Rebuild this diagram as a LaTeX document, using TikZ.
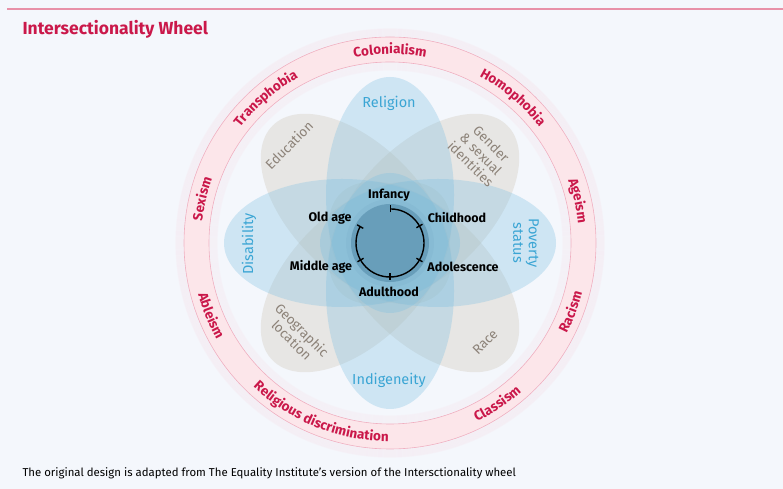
\documentclass[tikz,border=0pt]{standalone}
\usepackage{fontspec}
\setmainfont{Fira Sans}
\usetikzlibrary{decorations.text, arrows.meta, calc}

\definecolor{pagebg}{RGB}{244,247,252}
\definecolor{wheelred}{RGB}{202,24,74}
\definecolor{ringpink}{RGB}{252,230,234}
\definecolor{ringedge}{RGB}{240,175,192}
\definecolor{ringglow}{RGB}{250,200,212}
\definecolor{petalblue}{RGB}{120,190,225}
\definecolor{petalgray}{RGB}{205,195,180}
\definecolor{textblue}{RGB}{58,165,212}
\definecolor{textgray}{RGB}{140,130,120}
\definecolor{hubblue}{RGB}{80,135,165}

\newcommand{\ringfont}{\fontsize{13.5}{13.5}\selectfont\bfseries\color{wheelred}}

\tikzset{
    blue-petal/.style = {fill=petalblue, fill opacity=0.3},
    gray-petal/.style = {fill=petalgray, fill opacity=0.32},
    blue-text/.style = {text=textblue, font=\fontsize{14.5}{15.5}\selectfont, align=center},
    gray-text/.style = {text=textgray, font=\fontsize{13.5}{14.5}\selectfont, align=center},
    age-text/.style = {text=black, font=\fontsize{12.5}{13}\selectfont\bfseries},
    ring-top/.style = {decorate, decoration={text along path, text align=center, text/.expanded={|\noexpand\ringfont|#1}}},
    ring-bottom/.style = {decorate, decoration={text along path, text align=center, text/.expanded={|\noexpand\ringfont|#1}}},
}

\begin{document}
\begin{tikzpicture}[x=1pt, y=1pt]
\fill[pagebg] (0,0) rectangle (783,489);
\useasboundingbox (0,0) rectangle (783,489);
\draw[ringedge!80!wheelred, line width=1.1pt] (7,480) -- (783,480);
\node[anchor=west, text=wheelred, font=\fontsize{17.5}{18}\selectfont\bfseries] (title) at (19,460) {Intersectionality Wheel};

\coordinate (c) at (390,246);

% outer ring
\foreach \dr in {1,...,8} {
    \draw[ringglow, opacity=0.12, line width=1.2pt] (c) circle[radius=206+\dr];
    \draw[ringglow, opacity=0.09, line width=1.2pt] (c) circle[radius=181-\dr];
}
\fill[ringpink, even odd rule] (c) circle[radius=206] (c) circle[radius=181];
\draw[ringedge, line width=0.6pt] (c) circle[radius=206] (c) circle[radius=181];

% ring labels
\foreach \ang/\word in {166.8/Sexism, 130.7/Transphobia, 90/Colonialism, 49.8/Homophobia, 12.7/Ageism}
    \path[ring-top=\word] (c) ++(\ang+40:189) arc[start angle=\ang+40, end angle=\ang-40, radius=189];
\foreach \ang/\word in {-20.8/Racism, -56.3/Classism, -112/Religious discrimination, -158/Ableism}
    \path[ring-bottom=\word] (c) ++(\ang-40:198.5) arc[start angle=\ang-40, end angle=\ang+40, radius=198.5];

% petals
\foreach \ang in {45,135,225,315}
    \fill[gray-petal, rotate around={\ang:(c)}] ($(c)+(48,0)$) ellipse[x radius=118, y radius=65];
\foreach \ang in {0,90,180,270}
    \fill[blue-petal, rotate around={\ang:(c)}] ($(c)+(48,0)$) ellipse[x radius=118, y radius=64];

% hub
\fill[hubblue, opacity=0.08] (c) circle[radius=44];
\node[circle, minimum size=78, inner sep=0, fill=hubblue, fill opacity=0.55] (hub) at (c) {};
\draw[line width=1.4pt, {Bar[width=7pt]}-{Bar[width=7pt]}] (hub.center) ++(90:34) arc[start angle=90, end angle=-210, radius=34];
\foreach \a in {30,-30,-90,-150}
    \draw[line width=1.4pt] (hub.center) ++(\a:30.5) -- ++(\a:7);

\node[age-text] (infancy) at (389,294) {Infancy};
\node[age-text] (childhood) at (457,271) {Childhood};
\node[age-text] (adolescence) at (463,222) {Adolescence};
\node[age-text] (adulthood) at (389,197) {Adulthood};
\node[age-text] (middle) at (321,222) {Middle age};
\node[age-text] (old) at (330,271) {Old age};

\node[blue-text] (religion) at (389,386) {Religion};
\node[blue-text] (indigeneity) at (389,109) {Indigeneity};
\node[blue-text, rotate=90] (disability) at (249,245) {Disability};
\node[blue-text, rotate=-90] (poverty) at (526,246) {Poverty\\status};
\node[gray-text, rotate=45] (education) at (289,344) {Education};
\node[gray-text, rotate=-45] (gender) at (481,335) {Gender\\\& sexual\\identities};
\node[gray-text, rotate=-45] (geographic) at (297,154) {Geographic\\location};
\node[gray-text, rotate=45] (race) at (485,147) {Race};

\node[anchor=west, font=\fontsize{11.4}{12}\selectfont] (note) at (19,16) {The original design is adapted from The Equality Institute's version of the Intersctionality wheel};
\end{tikzpicture}
\end{document}
